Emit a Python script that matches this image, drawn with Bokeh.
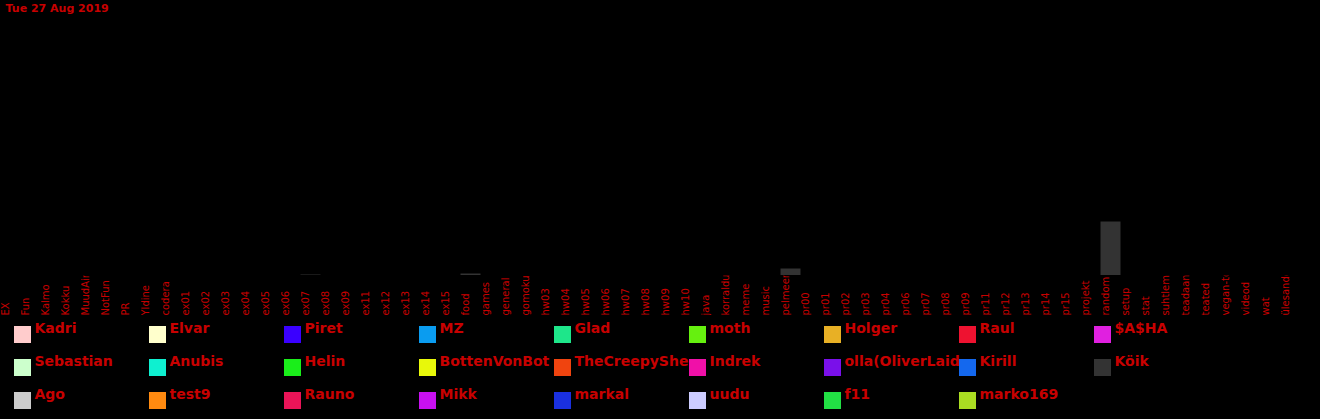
import math
from bokeh.plotting import figure
from bokeh.models import ColumnDataSource, Range1d, FactorRange, Label, GlobalInlineStyleSheet
from bokeh.layouts import column
from bokeh.embed import file_html
from bokeh.resources import INLINE
from bokeh.core.properties import value

title_text = "Tue 27 Aug 2019"

channels = ["EX", "Fun", "Kalmo", "Kokku", "MuudAined", "NotFun", "PR", "Yldine", "codera",
            "ex01", "ex02", "ex03", "ex04", "ex05", "ex06", "ex07", "ex08", "ex09", "ex11",
            "ex12", "ex13", "ex14", "ex15", "food", "games", "general", "gomoku", "hw03",
            "hw04", "hw05", "hw06", "hw07", "hw08", "hw09", "hw10", "java", "korraldus",
            "meme", "music", "pelmeenid", "pr00", "pr01", "pr02", "pr03", "pr04", "pr06",
            "pr07", "pr08", "pr09", "pr11", "pr12", "pr13", "pr14", "pr15", "projekt",
            "random", "setup", "stat", "suhtlemine", "teadaanded", "teated", "vegan-toit",
            "videod", "wat", "ülesanded"]

# messages of "Köik" (all users) per channel on this day
koik_channels = ["ex07", "food", "pelmeenid", "random"]
koik_counts = [1, 2, 7, 54]

users = ["Kadri", "Elvar", "Piret", "MZ", "Glad", "moth", "Holger", "Raul", "$A$HA",
         "Sebastian", "Anubis", "Helin", "BottenVonBot", "TheCreepyShe", "Indrek",
         "olla(OliverLaid", "Kirill", "Köik",
         "Ago", "test9", "Rauno", "Mikk", "markal", "uudu", "f11", "marko169"]
user_colors = ["#ffcccc", "#ffffcc", "#3a00ff", "#0a9cf0", "#1ee68a", "#66f00f", "#e8b025", "#ee1230", "#e020e0",
               "#ccffcc", "#0ef0d0", "#1aee1a", "#e8f80a", "#f0440f", "#f010a8", "#7a10ea", "#1468ee", "#333333",
               "#cccccc", "#ff8a10", "#ea1458", "#c810f0", "#1a30e0", "#ccccff", "#22e044", "#aadd22"]

RED = "#c80000"
W = 1320
NCOLS = 9

def base_fig(height, x_range, y_range):
    f = figure(width=W, height=height, x_range=x_range, y_range=y_range,
               output_backend="svg", toolbar_location=None,
               x_axis_location=None, y_axis_location=None,
               min_border_left=0, min_border_right=20, min_border_top=0, min_border_bottom=0,
               background_fill_color="black", border_fill_color="black",
               outline_line_color=None)
    f.grid.visible = False
    return f

# --- bars
xr = FactorRange(*channels, range_padding=0)
p = base_fig(275, xr, Range1d(0, 275))
src = ColumnDataSource(dict(ch=koik_channels, n=koik_counts))
p.vbar(x="ch", top="n", width=1.0, source=src, fill_color=user_colors[users.index("Köik")], line_color=None)
p.add_layout(Label(x=5, y=274, x_units="screen", y_units="screen", text=title_text,
                   text_baseline="top", text_font="DejaVu Sans", text_font_size="11px",
                   text_font_style="bold", text_color=RED))

# --- category labels
pl = base_fig(40, xr, Range1d(0, 1))
lsrc = ColumnDataSource(dict(ch=channels, y=[0] * len(channels)))
pl.text(x="ch", y="y", text="ch", source=lsrc, angle=math.pi / 2, text_align="left",
        text_baseline="middle", x_offset=-5, text_font=value("DejaVu Sans"),
        text_font_size="10px", text_color=RED)

# --- legend (frame is 1300 px wide, 104 px high)
leg = base_fig(104, Range1d(0, W - 20), Range1d(104, 0))
cols = [i % NCOLS for i in range(len(users))]
rows = [i // NCOLS for i in range(len(users))]
lg = ColumnDataSource(dict(
    name=users, color=user_colors,
    sx=[22 + 135 * c for c in cols], sy=[19 + 33 * r for r in rows],
    tx=[34 + 135 * c for c in cols], ty=[12 + 33 * r for r in rows]))
leg.text(x="tx", y="ty", text="name", source=lg, text_baseline="alphabetic", text_align="left",
         text_font=value("DejaVu Sans"), text_font_size="14px", text_font_style="bold", text_color=RED)
leg.rect(x="sx", y="sy", width=17, height=17, source=lg, fill_color="color", line_color=None)

layout = column(p, pl, leg, spacing=0,
                stylesheets=[GlobalInlineStyleSheet(css="body { margin: 0 !important; background: black; }")])

open("out.html", "w").write(file_html(layout, INLINE))
